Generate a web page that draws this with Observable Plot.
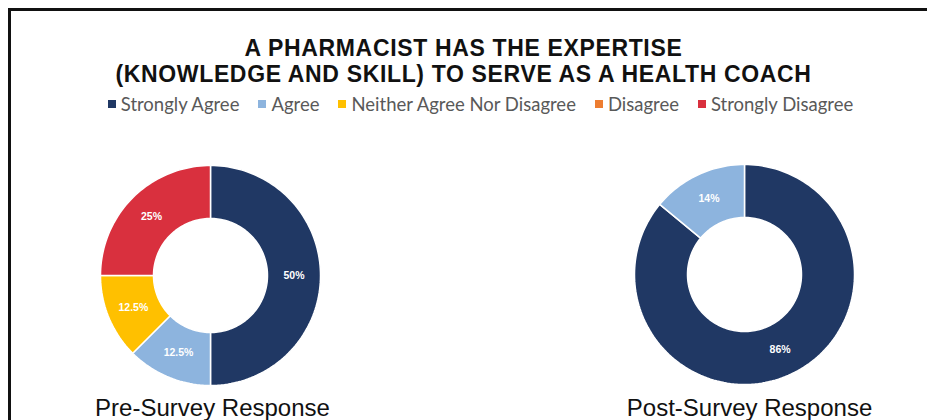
<!DOCTYPE html>
<html>
<head>
<meta charset="utf-8">
<script src="https://cdn.jsdelivr.net/npm/d3@7"></script>
<script src="https://cdn.jsdelivr.net/npm/@observablehq/plot@0.6"></script>
<style>
  html, body { margin: 0; padding: 0; background: #fff; }
  #page { position: relative; width: 927px; height: 420px; overflow: hidden; background: #fff; }
  #frame { position: absolute; left: 8px; top: 8px; right: -10px; bottom: -10px; border-left: 3px solid #111; border-top: 3px solid #111; }
  .title { position: absolute; left: 0; width: 927px; text-align: center; font-family: "Liberation Sans", Arial, sans-serif; font-weight: bold; font-size: 23px; line-height: 26px; height: 26px; color: #111; letter-spacing: 0.65px; white-space: nowrap; }
  #legend { position: absolute; left: 34px; width: 893px; top: 93px; display: flex; justify-content: center; }
  .lg-swatches, .lg-swatches-wrap { justify-content: center; min-height: 0; margin: 0; line-height: 22px; }
  .lg-swatch { margin-right: 19px !important; }
  .lg-swatch:last-child { margin-right: 0 !important; }
  .lg-swatch > svg { margin-right: 5px !important; }
  #chart { position: absolute; left: 0; top: 150px; }
</style>
</head>
<body>
<div id="page">
  <div id="frame"></div>
  <div class="title" style="top:35px">A PHARMACIST HAS THE EXPERTISE</div>
  <div class="title" style="top:61px">(KNOWLEDGE AND SKILL) TO SERVE AS A HEALTH COACH</div>
  <div id="legend"></div>
  <div id="chart"></div>
</div>
<script>
// ---- data ----
const responses = ["Strongly Agree", "Agree", "Neither Agree Nor Disagree", "Disagree", "Strongly Disagree"];
const responseColors = ["#203864", "#8db4de", "#ffc000", "#ed7d31", "#d9303e"];
const preValues = [50, 12.5, 12.5, 0, 25];
const postValues = [86, 14, 0, 0, 0];
const surveyNames = ["Pre-Survey Response", "Post-Survey Response"];

// ---- layout constants ----
const W = 927, H = 270;
const centers = [[210, 125], [744, 124]];
const rOuter = 110, rInner = 57;

const surveys = [preValues, postValues];
const slices = [];
const labels = [];
surveys.forEach((vals, si) => {
  const [cx, cy] = centers[si];
  let cum = 0;
  vals.forEach((v, i) => {
    if (v <= 0) return;
    const a0 = cum / 100 * 2 * Math.PI;
    const a1 = (cum + v) / 100 * 2 * Math.PI;
    cum += v;
    const key = si + "-" + i;
    const n = Math.max(8, Math.ceil(v * 2));
    const pts = [];
    for (let k = 0; k <= n; k++) {
      const a = a0 + (a1 - a0) * k / n;
      pts.push({x: cx + rOuter * Math.sin(a), y: cy - rOuter * Math.cos(a)});
    }
    for (let k = n; k >= 0; k--) {
      const a = a0 + (a1 - a0) * k / n;
      pts.push({x: cx + rInner * Math.sin(a), y: cy - rInner * Math.cos(a)});
    }
    pts.push(pts[0]);
    pts.forEach(p => slices.push({...p, key, response: responses[i]}));
    const am = (a0 + a1) / 2, rm = (rOuter + rInner) / 2;
    labels.push({x: cx + rm * Math.sin(am), y: cy - rm * Math.cos(am), text: v + "%"});
  });
});

const nameData = surveyNames.map((s, i) => ({x: centers[i][0] + (i ? 5 : 2), y: 265, text: s}));

const colorScale = {domain: responses, range: responseColors};

const chart = Plot.plot({
  width: W, height: H,
  marginTop: 0, marginRight: 0, marginBottom: 0, marginLeft: 0,
  x: {domain: [0, W], range: [0, W], axis: null},
  y: {domain: [0, H], range: [0, H], axis: null},
  color: colorScale,
  style: {background: "transparent", overflow: "visible"},
  marks: [
    Plot.line(slices, {x: "x", y: "y", z: "key", fill: "response", stroke: "white", strokeWidth: 1.5, curve: "linear"}),
    Plot.text(labels, {x: "x", y: "y", text: "text", fill: "white", fontWeight: "bold", fontSize: 10.5, fontFamily: "Liberation Sans, Arial, sans-serif"}),
    Plot.text(nameData, {x: "x", y: "y", text: "text", fill: "#111", fontSize: 24, lineAnchor: "bottom", fontFamily: "Liberation Sans, Arial, sans-serif"})
  ]
});
document.getElementById("chart").appendChild(chart);

const legend = Plot.legend({
  color: {type: "ordinal", ...colorScale},
  legend: "swatches",
  swatchSize: 8,
  className: "lg",
  style: {fontFamily: "Lato, sans-serif", fontSize: "18.5px", color: "#595959"}
});
document.getElementById("legend").appendChild(legend);
</script>
</body>
</html>
